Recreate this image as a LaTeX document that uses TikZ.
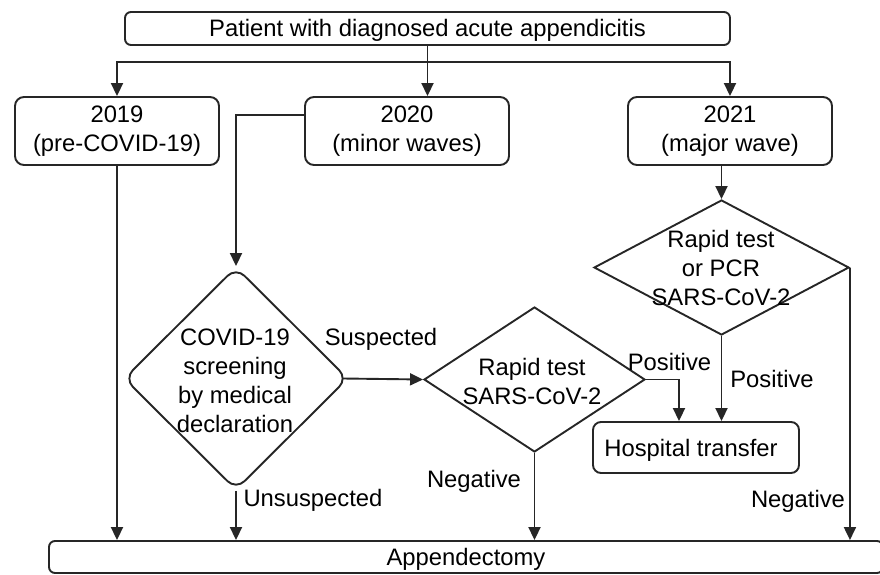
\documentclass[tikz,border=0pt]{standalone}
\usepackage{fontspec}
\setmainfont{Liberation Sans}
\usetikzlibrary{shapes.geometric,arrows.meta,calc}
\begin{document}
\begin{tikzpicture}[x=1pt,y=-1pt,
  every node/.style={font=\fontsize{23.8pt}{29pt}\selectfont, text=black},
  box/.style={draw, rounded corners=9pt, inner sep=0pt, align=center},
  one/.style={text height=17pt, text depth=0pt},
  dia/.style={draw, diamond, inner sep=0pt},
  lbl/.style={inner sep=0pt, align=center},
  arr/.style={-{Triangle[length=13pt,width=12pt]}},
  line width=1.9pt, draw=black!85
]
\useasboundingbox (0,0) rectangle (880,575);
% boxes
\node[box, one, minimum width=605pt, minimum height=33pt, rounded corners=6pt] (top) at (427.5,28.5) {Patient with diagnosed acute appendicitis};
\node[box, minimum width=204pt, minimum height=68pt] (y2019) at (117,131) {2019\\(pre-COVID-19)};
\node[box, minimum width=204pt, minimum height=68pt] (y2020) at (407,131) {2020\\(minor waves)};
\node[box, minimum width=204pt, minimum height=68pt] (y2021) at (730,131) {2021\\(major wave)};
% diamonds
\node[dia, rounded corners=12pt, minimum width=224pt, minimum height=223pt] (screen) at (236,378.5) {};
\node[lbl] (screentxt) at (235,381) {COVID-19\\screening\\by medical\\declaration};
\node[dia, minimum width=221pt, minimum height=145pt] (test1) at (534.5,379.5) {};
\node[lbl] (test1txt) at (532,381) {Rapid test\\SARS-CoV-2};
\node[dia, minimum width=255pt, minimum height=135pt] (test2) at (721.5,267.5) {};
\node[lbl] (test2txt) at (721,268) {Rapid test\\or PCR\\SARS-CoV-2};
\node[box, minimum width=206pt, minimum height=51pt, rounded corners=8pt] (hosp) at (696,447.5) {};
\node[lbl, one] (hosptxt) at (691,447.5) {Hospital transfer};
\node[box, one, minimum width=834pt, minimum height=32pt, rounded corners=6pt] (app) at (466,557) {Appendectomy};
% labels
\node[lbl, one] (lsusp) at (381,337) {Suspected};
\node[lbl, one] (lpos1) at (669.5,362) {Positive};
\node[lbl, one] (lpos2) at (772,379) {Positive};
\node[lbl, one] (lneg1) at (474,479) {Negative};
\node[lbl, one] (lneg2) at (798,499) {Negative};
\node[lbl, one] (lunsusp) at (313,498) {Unsuspected};
% connectors
\coordinate (split) at (427.5,62);
\draw[arr] (top.south) -- (y2020.north -| top.south);
\draw[arr] (split) -| (y2019.north);
\draw[arr] (split) -| (y2021.north);
\draw[arr] ([yshift=16pt]y2020.west) -| (screen.north);
\draw[arr] ([xshift=-6pt]screen.east) -- (test1.west);
\draw[arr] (test1.east) -| ([xshift=-17pt]hosp.north);
\draw[arr] (test2.south) -- (test2.south |- hosp.north);
\draw[arr] (test2.north |- y2021.south) -- (test2.north);
\draw[arr] (test2.east) -- (test2.east |- app.north);
\draw[arr] (test1.south) -- (test1.south |- app.north);
\draw[arr] (screen.south) -- (screen.south |- app.north);
\draw[arr] (y2019.south) -- (y2019.south |- app.north);
\end{tikzpicture}
\end{document}
